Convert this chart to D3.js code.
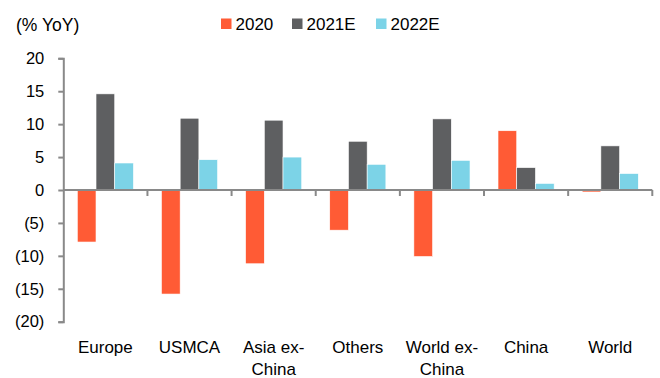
<!DOCTYPE html>
<html>
<head>
<meta charset="utf-8">
<script src="https://cdn.jsdelivr.net/npm/d3@7"></script>
<style>
  html, body { margin: 0; padding: 0; background: #fff; }
  svg { display: block; }
  text { font-family: "Liberation Sans", Arial, sans-serif; fill: #000; }
</style>
</head>
<body>
<svg id="chart" width="660" height="378"></svg>
<script>
// Regions and their year-on-year growth (%)
const categories = ["Europe", "USMCA", "Asia ex-China", "Others", "World ex-China", "China", "World"];
const seriesNames = ["2020", "2021E", "2022E"];
const values2020  = [-7.9, -15.8, -11.2, -6.1, -10.1, 9.0, -0.3];
const values2021E = [14.6, 10.9, 10.6, 7.4, 10.8, 3.4, 6.7];
const values2022E = [4.1, 4.6, 5.0, 3.9, 4.5, 1.0, 2.5];
const yTicks = [20, 15, 10, 5, 0, -5, -10, -15, -20];
const unitLabel = "(% YoY)";

const seriesValues = [values2020, values2021E, values2022E];
const colors = ["#FF5B35", "#5E5F61", "#7CD3E7"];
const axisColor = "#898989";

const svg = d3.select("#chart");

const x = d3.scaleBand()
  .domain(categories)
  .range([63.3, 652.3])
  .paddingInner(0)
  .paddingOuter(0);

const inner = d3.scaleBand()
  .domain(seriesNames)
  .range([14, x.bandwidth() - 14])
  .padding(0);

const y = d3.scaleLinear()
  .domain([-20, 20])
  .range([321.7, 58.3]);

// Bars
const rows = categories.map((c, i) => ({
  cat: c,
  vals: seriesNames.map((s, j) => ({ s, v: seriesValues[j][i], color: colors[j] }))
}));

const groups = svg.append("g")
  .selectAll("g")
  .data(rows)
  .join("g")
  .attr("transform", d => `translate(${x(d.cat)},0)`);

groups.selectAll("rect")
  .data(d => d.vals)
  .join("rect")
  .attr("x", d => inner(d.s))
  .attr("width", inner.bandwidth())
  .attr("y", d => y(Math.max(0, d.v)))
  .attr("height", d => Math.abs(y(d.v) - y(0)))
  .attr("fill", d => d.color)
  .attr("stroke", "#fff")
  .attr("stroke-width", 0.6);

// Y axis
const fmt = v => v < 0 ? `(${Math.abs(v)})` : `${v}`;
const yAxis = svg.append("g")
  .attr("transform", `translate(${x.range()[0]},0)`)
  .call(d3.axisLeft(y).tickValues(yTicks).tickSize(5).tickPadding(14).tickFormat(fmt));
yAxis.select(".domain").attr("stroke", axisColor).attr("stroke-width", 2);
yAxis.selectAll(".tick line").attr("stroke", axisColor).attr("stroke-width", 2);
yAxis.selectAll(".tick text")
  .attr("font-size", "16.5px")
  .attr("font-family", "'Liberation Sans', Arial, sans-serif")
  .attr("fill", "#000");

// Zero line with category separators
const xAxis = svg.append("g");
xAxis.append("line")
  .attr("x1", x.range()[0]).attr("x2", x.range()[1])
  .attr("y1", y(0)).attr("y2", y(0))
  .attr("stroke", axisColor).attr("stroke-width", 2);
xAxis.selectAll("line.sep")
  .data(categories)
  .join("line")
  .attr("class", "sep")
  .attr("x1", d => x(d) + x.bandwidth()).attr("x2", d => x(d) + x.bandwidth())
  .attr("y1", y(0)).attr("y2", y(0) + 6)
  .attr("stroke", axisColor).attr("stroke-width", 2);

// Category labels (wrapped after "ex-")
const labelLines = name => name.replace("ex-", "ex-\n").split("\n");
svg.append("g")
  .selectAll("text")
  .data(categories)
  .join("text")
  .attr("text-anchor", "middle")
  .attr("font-size", "17px")
  .attr("transform", d => `translate(${x(d) + x.bandwidth() / 2},353)`)
  .each(function (d) {
    d3.select(this).selectAll("tspan")
      .data(labelLines(d))
      .join("tspan")
      .attr("x", 0)
      .attr("dy", (t, i) => i === 0 ? 0 : 22)
      .text(t => t);
  });

// Unit label
svg.append("text")
  .attr("x", 16).attr("y", 30.5)
  .attr("font-size", "17.5px")
  .text(unitLabel);

// Legend
const legendX = [221, 292, 376];
const legend = svg.append("g")
  .selectAll("g")
  .data(seriesNames)
  .join("g")
  .attr("transform", (d, i) => `translate(${legendX[i]},0)`);
legend.append("rect")
  .attr("x", 0).attr("y", 18.5)
  .attr("width", 10.5).attr("height", 10.5)
  .attr("fill", (d, i) => colors[i]);
legend.append("text")
  .attr("x", 14.5).attr("y", 30)
  .attr("font-size", "17px")
  .text(d => d);
</script>
</body>
</html>
